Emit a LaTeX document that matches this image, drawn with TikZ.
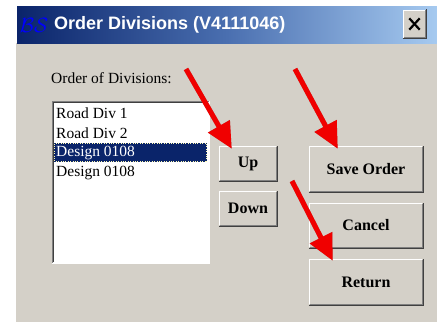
\documentclass[tikz,border=0pt]{standalone}
\usepackage{fontspec}
\setmainfont{Liberation Serif}
\newfontfamily\titlefont{Liberation Sans}
\usetikzlibrary{arrows.meta}
\definecolor{face}{HTML}{D4D0C8}
\definecolor{navy}{HTML}{0A246A}
\definecolor{midblue}{HTML}{4A6FB0}
\definecolor{sky}{HTML}{A6CAF0}
\definecolor{btndark}{HTML}{404040}
\definecolor{btngray}{HTML}{808080}
\definecolor{arrowred}{HTML}{F00000}
\begin{document}
\begin{tikzpicture}[x=1pt,y=-1pt,
  btn/.style={fill=face, inner sep=0pt, font=\bfseries\fontsize{16}{18}\selectfont},
  item/.style={anchor=west, inner sep=0pt, font=\fontsize{15.5}{17}\selectfont},
  redarrow/.style={draw=arrowred, line width=5pt, -{Triangle[length=26pt,width=24pt]}},
  arrowshade/.style={draw=black, opacity=0.25, line width=5pt, -{Triangle[length=26pt,width=24pt]}, shift={(3,3)}}
]
\useasboundingbox (0,0) rectangle (437,324);
\fill[white] (0,0) rectangle (437,324);
% window body
\fill[face] (15,43) rectangle (437,322);
\draw[white] (15.5,43) -- (15.5,322);
% title bar
\shade[left color=navy, right color=sky, middle color=midblue] (17,6) rectangle (437,43);
\node[anchor=west, text=white, inner sep=0pt, font=\titlefont\bfseries\fontsize{18}{20}\selectfont] (title) at (54,24.5) {Order Divisions (V4111046)};
\node[text=blue, inner sep=0pt, font=\fontsize{21}{21}\selectfont] (logo) at (34,25) {$\mathcal{B}\mathcal{S}$};
% close button
\node[btn, minimum width=23pt, minimum height=29pt] (close) at (414.5,24) {};
\draw[black, line width=2.2pt] ([shift={(6.5,9)}]close.north west) -- ([shift={(-6.5,-9)}]close.south east);
\draw[black, line width=2.2pt] ([shift={(-6.5,9)}]close.north east) -- ([shift={(6.5,-9)}]close.south west);
% label
\node[item] (lbl) at (51,78) {Order of Divisions:};
% list box
\node[fill=white, inner sep=0pt, minimum width=157pt, minimum height=162pt, anchor=north west] (list) at (52,101) {};
\draw[btngray] ([shift={(0,0.5)}]list.south west) |- ([shift={(0,0.5)}]list.north east);
\draw[btndark] ([shift={(1.5,-1)}]list.south west) |- ([shift={(-1,1.5)}]list.north east);
\draw[white] ([shift={(0,-0.5)}]list.south west) -| ([shift={(-0.5,0)}]list.north east);
\fill[navy] (54,143) rectangle (207,162);
\draw[white!70!yellow, dotted] (54.5,143.5) rectangle (206.5,161.5);
\node[item] (i1) at (56,113) {Road Div 1};
\node[item] (i2) at (56,133) {Road Div 2};
\node[item, text=white] (i3) at (56,153) {Design 0108};
\node[item] (i4) at (56,173) {Design 0108};
% buttons
\node[btn, minimum width=58pt, minimum height=35pt] (up) at (248,163.5) {Up};
\node[btn, minimum width=58pt, minimum height=35pt] (down) at (248,208.5) {Down};
\node[btn, minimum width=114pt, minimum height=46pt] (save) at (366,169) {Save Order};
\node[btn, minimum width=114pt, minimum height=45pt] (cancel) at (366,225.5) {Cancel};
\node[btn, minimum width=114pt, minimum height=46pt] (ret) at (366,282) {Return};
\foreach \n in {close,up,down,save,cancel,ret}{
  \draw[white] ([shift={(0.5,-1)}]\n.south west) |- ([shift={(-1,0.5)}]\n.north east);
  \draw[btndark] ([shift={(0,-0.5)}]\n.south west) -| ([shift={(-0.5,0)}]\n.north east);
  \draw[btngray] ([shift={(1,-1.5)}]\n.south west) -| ([shift={(-1.5,1)}]\n.north east);
}
% arrows
\coordinate (a1) at (186,69);
\coordinate (a2) at (295,69);
\coordinate (a3) at (292,181);
\draw[arrowshade] (a1) -- ([shift={(13,3)}]up.north west);
\draw[arrowshade] (a2) -- ([shift={(29,3)}]save.north west);
\draw[arrowshade] (a3) -- ([shift={(24,2)}]ret.north west);
\draw[redarrow] (a1) -- ([shift={(13,3)}]up.north west);
\draw[redarrow] (a2) -- ([shift={(29,3)}]save.north west);
\draw[redarrow] (a3) -- ([shift={(24,2)}]ret.north west);
\end{tikzpicture}
\end{document}
